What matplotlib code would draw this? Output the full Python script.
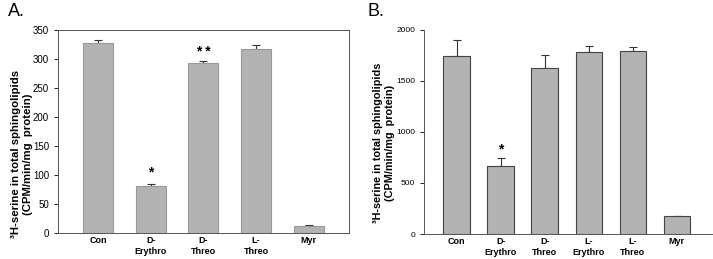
import matplotlib.pyplot as plt
import numpy as np

plt.rcParams['font.family'] = ['Liberation Sans', 'DejaVu Sans']

# --- Datos panel A ---
cats_a = ['Con', 'D-\nErythro', 'D-\nThreo', 'L-\nThreo', 'Myr']
vals_a = [327, 82, 294, 317, 13]
err_a = [6, 3, 3, 7, 0.5]
marcas_a = {1: ('*', 105), 2: ('* *', 312)}

# --- Datos panel B ---
cats_b = ['Con', 'D-\nErythro', 'D-\nThreo', 'L-\nErythro', 'L-\nThreo', 'Myr']
vals_b = [1740, 665, 1625, 1785, 1795, 175]
err_b = [160, 75, 130, 60, 35, 0]
marcas_b = {1: ('*', 833)}

ylabel = "³H-serine in total sphingolipids\n(CPM/min/mg  protein)"
gris = '#b3b3b3'

fig = plt.figure(figsize=(7.13, 2.59), dpi=100)
ax_a = fig.add_axes([0.0813, 0.100, 0.408, 0.784])
ax_b = fig.add_axes([0.5947, 0.0965, 0.404, 0.788])


def dibujar(ax, cats, vals, errs, marcas, ancho, borde, ylim, yticks, tick_fs, lab_fs, lab_xy):
    x = np.arange(len(cats))
    ax.bar(x, vals, width=ancho, color=gris, edgecolor=borde, linewidth=0.8, zorder=2)
    ax.errorbar(x, vals, yerr=[np.zeros(len(errs)), errs], fmt='none',
                ecolor='#333333', elinewidth=0.8, capsize=3, capthick=0.8, zorder=1)
    for i, (txt, y) in marcas.items():
        ax.text(x[i], y, txt, ha='center', va='center', fontsize=10, fontweight='bold')
    ax.set_ylim(*ylim)
    ax.set_yticks(yticks)
    ax.set_xticks(x)
    ax.set_xticklabels(cats, fontsize=6.5, fontweight='bold', linespacing=1.25)
    ax.tick_params(axis='x', length=0, pad=2)
    ax.tick_params(axis='y', labelsize=tick_fs, length=3, width=0.6, direction='out')
    ax.set_ylabel(ylabel, fontsize=lab_fs, fontweight='bold', linespacing=1.3)
    ax.yaxis.set_label_coords(*lab_xy)
    for s in ax.spines.values():
        s.set_linewidth(0.7)
        s.set_color('#555555')


dibujar(ax_a, cats_a, vals_a, err_a, marcas_a, 0.57, '#999999',
        (0, 350), range(0, 351, 50), 7, 8.2, (-0.086, 0.39))
ax_a.set_xlim(-0.76, 4.76)

dibujar(ax_b, cats_b, vals_b, err_b, marcas_b, 0.6, '#444444',
        (0, 2000), range(0, 2001, 500), 6, 7.8, (-0.1, 0.445))
ax_b.set_xlim(-0.74, 5.8)
ax_b.spines['top'].set_visible(False)
ax_b.spines['right'].set_visible(False)

fig.text(0.011, 0.955, 'A.', fontsize=13, va='center', ha='left')
fig.text(0.515, 0.955, 'B.', fontsize=13, va='center', ha='left')

fig.savefig('out.png', dpi=100)
